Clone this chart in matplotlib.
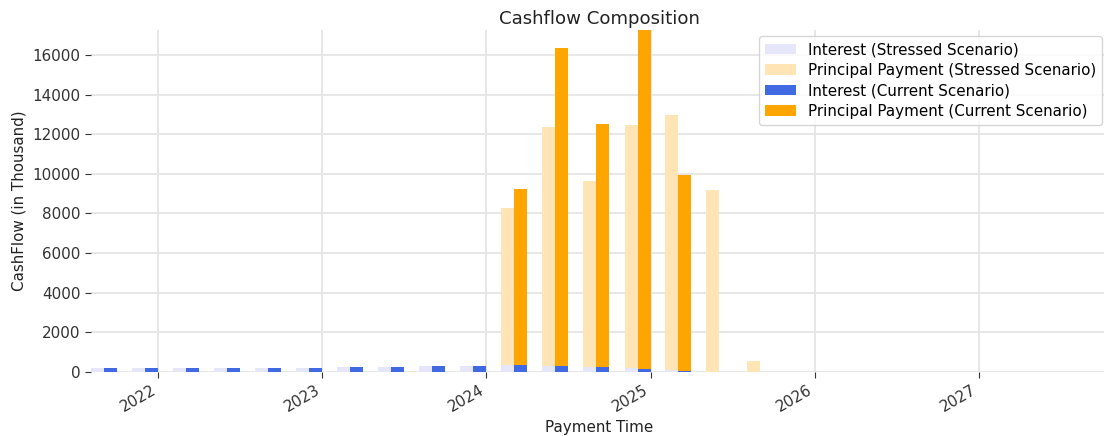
import matplotlib
matplotlib.use("Agg")
import matplotlib.pyplot as plt
import matplotlib.dates as mdates
import numpy as np
import pandas as pd

# quarterly payment dates
pay_dates = pd.date_range("2021-10-01", "2027-10-01", freq="QS")

# values in thousand
int_current = [222, 222, 222, 222, 222, 222, 273, 273, 323, 323,
               374, 323, 237, 172, 71, 0, 0, 0, 0, 0, 0, 0, 0, 0, 0]
prin_current = [0, 0, 0, 0, 0, 0, 0, 0, 0, 0,
                8848, 16047, 12280, 17090, 9872, 0, 0, 0, 0, 0, 0, 0, 0, 0, 0]
int_stressed = [222, 222, 222, 222, 222, 222, 273, 273, 323, 323,
                374, 323, 273, 222, 121, 10, 0, 0, 0, 0, 0, 0, 0, 0, 0]
prin_stressed = [0, 0, 0, 0, 0, 0, 0, 0, 0, 0,
                 7888, 12043, 9367, 12245, 12851, 9176, 570, 0, 0, 0, 0, 0, 0, 0, 0]

FS = 10.9

fig, ax = plt.subplots(figsize=(11.04, 4.36), dpi=100)
w = pd.Timedelta(days=29)

ax.bar(pay_dates - 2 * w, int_stressed, width=w, align="edge",
       color="#E6E6FA", label="Interest (Stressed Scenario)", zorder=2)
ax.bar(pay_dates - 2 * w, prin_stressed, width=w, align="edge", bottom=int_stressed,
       color="#FFE4B5", label="Principal Payment (Stressed Scenario)", zorder=2)
ax.bar(pay_dates - w, int_current, width=w, align="edge",
       color="#4169E1", label="Interest (Current Scenario)", zorder=2)
ax.bar(pay_dates - w, prin_current, width=w, align="edge", bottom=int_current,
       color="#FFA500", label="Principal Payment (Current Scenario)", zorder=2)

ax.margins(0)
ax.set_xlim(right=pd.Timestamp("2027-10-16"))
ax.xaxis.set_major_locator(mdates.YearLocator())
ax.xaxis.set_major_formatter(mdates.DateFormatter("%Y"))
ax.set_yticks(np.arange(0, 16001, 2000))

ax.grid(True, color="#e5e5e5", linewidth=1.3, zorder=0)
ax.set_axisbelow(True)
for s in ax.spines.values():
    s.set_visible(False)
ax.tick_params(labelsize=FS, colors="#333333", length=4)
for lab in ax.get_xticklabels():
    lab.set_rotation(30)
    lab.set_ha("right")

ax.set_title("Cashflow Composition", fontsize=13.1, color="#222222", pad=4.5)
ax.set_xlabel("Payment Time", fontsize=FS, color="#222222")
ax.set_ylabel("CashFlow (in Thousand)", fontsize=FS, color="#222222")
ax.legend(loc="upper right", fontsize=FS, handlelength=2.0, labelspacing=0.37,
          borderaxespad=0.4)

plt.subplots_adjust(left=0.0825, right=1.0036, top=0.931, bottom=0.147)
plt.savefig("out.png", dpi=100)
